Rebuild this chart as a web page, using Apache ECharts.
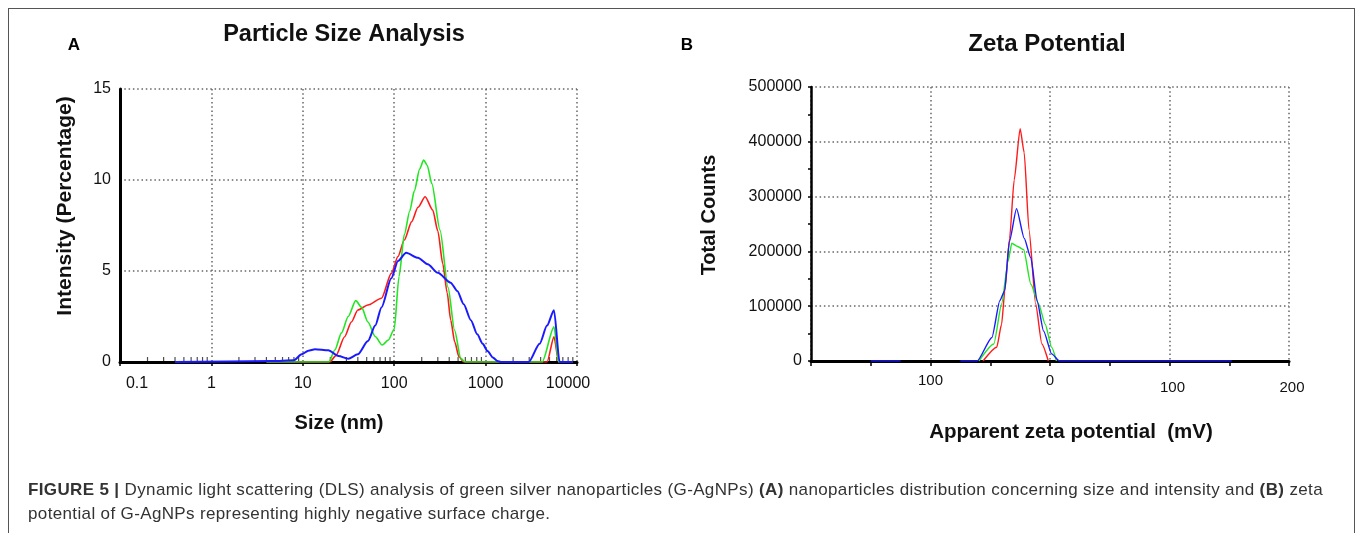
<!DOCTYPE html>
<html>
<head>
<meta charset="utf-8">
<script src="https://cdn.jsdelivr.net/npm/echarts@6/dist/echarts.min.js"></script>
<style>
  html, body { margin: 0; padding: 0; background: #fff; }
  #wrap { position: relative; width: 1357px; height: 533px; overflow: hidden; }
  #frame { position: absolute; left: 8px; top: 8px; width: 1345px; height: 600px; border: 1.5px solid #555; box-sizing: content-box; }
  #chart { position: absolute; left: 0; top: 0; width: 1357px; height: 533px; }
  #caption { position: absolute; left: 28px; top: 478px; font-family: "Liberation Sans", Arial, sans-serif; font-size: 17px; letter-spacing: 0.36px; line-height: 24px; color: #333; white-space: nowrap; }
</style>
</head>
<body>
<div id="wrap">
  <div id="frame"></div>
  <div id="chart"></div>
  <div id="caption"><b>FIGURE 5 |</b> Dynamic light scattering (DLS) analysis of green silver nanoparticles (G-AgNPs) <b>(A)</b> nanoparticles distribution concerning size and intensity and <b>(B)</b> zeta<br>potential of G-AgNPs representing highly negative surface charge.</div>
</div>
<script>
// ---- Panel A: particle size (nm) vs intensity (%) ----
const sizeRed = [[4,0],[19.8,0],[23,0.35],[28.7,1.39],[34,2.2],[40,2.86],[51.6,3.13],[72.6,3.5],[93,4.87],[110,5.8],[129,6.7],[155,7.7],[182,8.5],[218,9.08],[264,8.35],[300,7.2],[340,5.4],[380,3.8],[415,2.3],[460,1.1],[510,0.3],[576,0],[4700,0],[5600,1.38],[6300,0],[9000,0]];
const sizeGreen = [[4,0],[19.3,0],[22.4,0.66],[26.5,1.6],[31.4,2.5],[38,3.37],[44,3.0],[51.6,2.2],[62,1.4],[74,0.93],[86,1.2],[100,1.8],[113,4.7],[129,7.0],[148,8.3],[166,9.4],[190,10.6],[210,11.1],[230,10.8],[258,9.8],[317,7.25],[388,4.1],[457,1.76],[535,0.2],[600,0],[4150,0],[5600,1.93],[6300,0],[9000,0]];
const sizeBlue = [[0.4,0],[4.6,0.05],[8,0.1],[9.7,0.42],[11.5,0.62],[13.6,0.7],[19,0.64],[24.6,0.33],[31.4,0.18],[40,0.42],[51.6,1.15],[62,2.0],[72.6,3.0],[93,4.6],[110,5.55],[135,6.0],[182,5.73],[233,5.37],[300,4.9],[415,4.36],[490,3.9],[576,3.17],[690,2.3],[810,1.52],[930,1.0],[1050,0.6],[1200,0.25],[1350,0.05],[1470,0],[2960,0],[3900,1.0],[4700,2.0],[5600,2.85],[6450,0],[9000,0]];
const sizeTicks = [0.1, 1, 10, 100, 1000, 10000];
const intensityTicks = [0, 5, 10, 15];

// ---- Panel B: apparent zeta potential (mV) vs total counts ----
const zetaRed = [[-56,0],[-44.6,25000],[-40.5,67000],[-37.8,128000],[-33.8,224000],[-30,330000],[-25,424000],[-21.6,380000],[-17.6,240000],[-12,104000],[-6.8,31000],[-1.4,0]];
const zetaGreen = [[-59.5,0],[-47,31000],[-40.5,104000],[-35,182000],[-32,215000],[-27,209000],[-22,203000],[-16,140000],[-9.5,104000],[-4,67000],[1.4,25000],[5.4,0]];
const zetaBlue = [[-150,0],[-125,0],[-100,null],[-75,0],[-61,0],[-48.6,43000],[-42,110000],[-38,128000],[-34,218000],[-28,278000],[-21.6,224000],[-16,188000],[-10.8,110000],[-5.4,55000],[1.4,13000],[8,0],[152,0]];
const zetaTicks = [-200, -100, 0, 100, 200];
const countTicks = [0, 100000, 200000, 300000, 400000, 500000];

// log minor tick positions for the size axis (axis decoration)
const sizeMinor = [];
for (let d = 0; d < sizeTicks.length - 1; d++) {
  for (let k = 2; k <= 9; k++) sizeMinor.push([+(sizeTicks[d] * k).toPrecision(3), 0]);
}

const FONT = '"Liberation Sans", Arial, sans-serif';
const dotted = { color: '#666', width: 1.5, type: [1.5, 2.8] };
const lbl = { fontSize: 16, fontFamily: FONT, color: '#111' };

const chart = echarts.init(document.getElementById('chart'), null, { renderer: 'canvas' });
chart.setOption({
  animation: false,
  backgroundColor: 'transparent',
  textStyle: { fontFamily: FONT },
  grid: [
    { left: 120, top: 89, width: 457, height: 273, containLabel: false },
    { left: 811, top: 87, width: 478, height: 274, containLabel: false }
  ],
  xAxis: [
    {
      gridIndex: 0, type: 'log', logBase: 10, min: sizeTicks[0], max: sizeTicks[sizeTicks.length - 1],
      axisLine: { show: true, onZero: false, lineStyle: { color: '#000', width: 3 } },
      axisTick: { show: true, length: 4, lineStyle: { color: '#000', width: 1.5 } },
      axisLabel: { margin: 14, fontSize: 16, color: '#111', fontFamily: FONT,
        formatter: v => {
          const s = String(+(+v).toPrecision(3));
          if (+s === sizeTicks[0]) return '{first|' + s + '}';
          if (+s === sizeTicks[sizeTicks.length - 1]) return '{last|' + s + '}';
          return s;
        },
        rich: { first: Object.assign({ padding: [0, 0, 0, 34] }, lbl), last: Object.assign({ padding: [0, 18, 0, 0] }, lbl) } },
      splitLine: { show: true, lineStyle: dotted }
    },
    {
      gridIndex: 1, type: 'value', min: zetaTicks[0], max: zetaTicks[zetaTicks.length - 1], interval: 100,
      axisLine: { show: true, onZero: false, lineStyle: { color: '#000', width: 3 } },
      axisTick: { show: true, length: 5, lineStyle: { color: '#000', width: 1.5 } },
      minorTick: { show: true, splitNumber: 2, length: 5, lineStyle: { color: '#000', width: 1.5 } },
      axisLabel: { margin: 12, fontSize: 15, color: '#111', fontFamily: FONT,
        formatter: v => v === zetaTicks[0] ? '' : (v > 0 ? '{lo|' + Math.abs(v) + '}' : '{hi|' + Math.abs(v) + '}'),
        rich: { hi: { fontSize: 15, fontFamily: FONT, color: '#111' }, lo: { fontSize: 15, fontFamily: FONT, color: '#111', padding: [7, 0, 0, 6] } } },
      splitLine: { show: true, lineStyle: dotted }
    }
  ],
  yAxis: [
    {
      gridIndex: 0, type: 'value', min: intensityTicks[0], max: intensityTicks[intensityTicks.length - 1], interval: 5,
      axisLine: { show: true, onZero: false, lineStyle: { color: '#000', width: 3 } },
      axisTick: { show: false },
      axisLabel: { margin: 9, fontSize: 16, color: '#111', fontFamily: FONT },
      splitLine: { show: true, lineStyle: dotted }
    },
    {
      gridIndex: 1, type: 'value', min: countTicks[0], max: countTicks[countTicks.length - 1], interval: 100000,
      axisLine: { show: true, onZero: false, lineStyle: { color: '#000', width: 2.5 } },
      axisTick: { show: true, length: 3, lineStyle: { color: '#000', width: 1.5 } },
      minorTick: { show: true, splitNumber: 2, length: 3, lineStyle: { color: '#000', width: 1.5 } },
      axisLabel: { margin: 9, fontSize: 16, color: '#111', fontFamily: FONT, formatter: v => String(v) },
      splitLine: { show: true, lineStyle: dotted }
    }
  ],
  graphic: [
    { type: 'text', x: 74, y: 45, style: { text: 'A', font: 'bold 17px ' + FONT, fill: '#000', textAlign: 'center', textVerticalAlign: 'middle' } },
    { type: 'text', x: 344, y: 35, style: { text: 'Particle Size Analysis', font: 'bold 23.5px ' + FONT, fill: '#111', textAlign: 'center', textVerticalAlign: 'middle' } },
    { type: 'text', x: 687, y: 45, style: { text: 'B', font: 'bold 17px ' + FONT, fill: '#000', textAlign: 'center', textVerticalAlign: 'middle' } },
    { type: 'text', x: 1047, y: 44, style: { text: 'Zeta Potential', font: 'bold 24px ' + FONT, fill: '#111', textAlign: 'center', textVerticalAlign: 'middle' } },
    { type: 'text', x: 65, y: 206, rotation: Math.PI / 2, style: { text: 'Intensity (Percentage)', font: 'bold 21px ' + FONT, fill: '#111', textAlign: 'center', textVerticalAlign: 'middle' } },
    { type: 'text', x: 339, y: 423, style: { text: 'Size (nm)', font: 'bold 20px ' + FONT, fill: '#111', textAlign: 'center', textVerticalAlign: 'middle' } },
    { type: 'text', x: 709, y: 215, rotation: Math.PI / 2, style: { text: 'Total Counts', font: 'bold 20px ' + FONT, fill: '#111', textAlign: 'center', textVerticalAlign: 'middle' } },
    { type: 'text', x: 1071, y: 432, style: { text: 'Apparent zeta potential  (mV)', font: 'bold 20.5px ' + FONT, fill: '#111', textAlign: 'center', textVerticalAlign: 'middle' } }
  ],
  series: [
    { type: 'scatter', xAxisIndex: 0, yAxisIndex: 0, data: sizeMinor, symbol: 'rect', symbolSize: [1.2, 4], symbolOffset: [0, -3], itemStyle: { color: '#222' }, silent: true, z: 1 },
    { name: 'red', type: 'line', xAxisIndex: 0, yAxisIndex: 0, data: sizeRed, showSymbol: false, smooth: 0.25, smoothMonotone: 'x', lineStyle: { color: '#ff1a1a', width: 1.6 }, z: 3 },
    { name: 'green', type: 'line', xAxisIndex: 0, yAxisIndex: 0, data: sizeGreen, showSymbol: false, smooth: 0.25, smoothMonotone: 'x', lineStyle: { color: '#22e622', width: 1.6 }, z: 3 },
    { name: 'blue', type: 'line', xAxisIndex: 0, yAxisIndex: 0, data: sizeBlue, showSymbol: false, smooth: 0.25, smoothMonotone: 'x', lineStyle: { color: '#1a1aff', width: 2 }, z: 4 },
    { name: 'red', type: 'line', xAxisIndex: 1, yAxisIndex: 1, data: zetaRed, showSymbol: false, smooth: 0.2, smoothMonotone: 'x', lineStyle: { color: '#ff1a1a', width: 1.4 }, z: 3 },
    { name: 'green', type: 'line', xAxisIndex: 1, yAxisIndex: 1, data: zetaGreen, showSymbol: false, smooth: 0.2, smoothMonotone: 'x', lineStyle: { color: '#22e622', width: 1.4 }, z: 3 },
    { name: 'blue', type: 'line', xAxisIndex: 1, yAxisIndex: 1, data: zetaBlue, showSymbol: false, connectNulls: false, smooth: 0.2, smoothMonotone: 'x', lineStyle: { color: '#1a1aff', width: 1.4 }, z: 4 }
  ]
});
</script>
</body>
</html>
